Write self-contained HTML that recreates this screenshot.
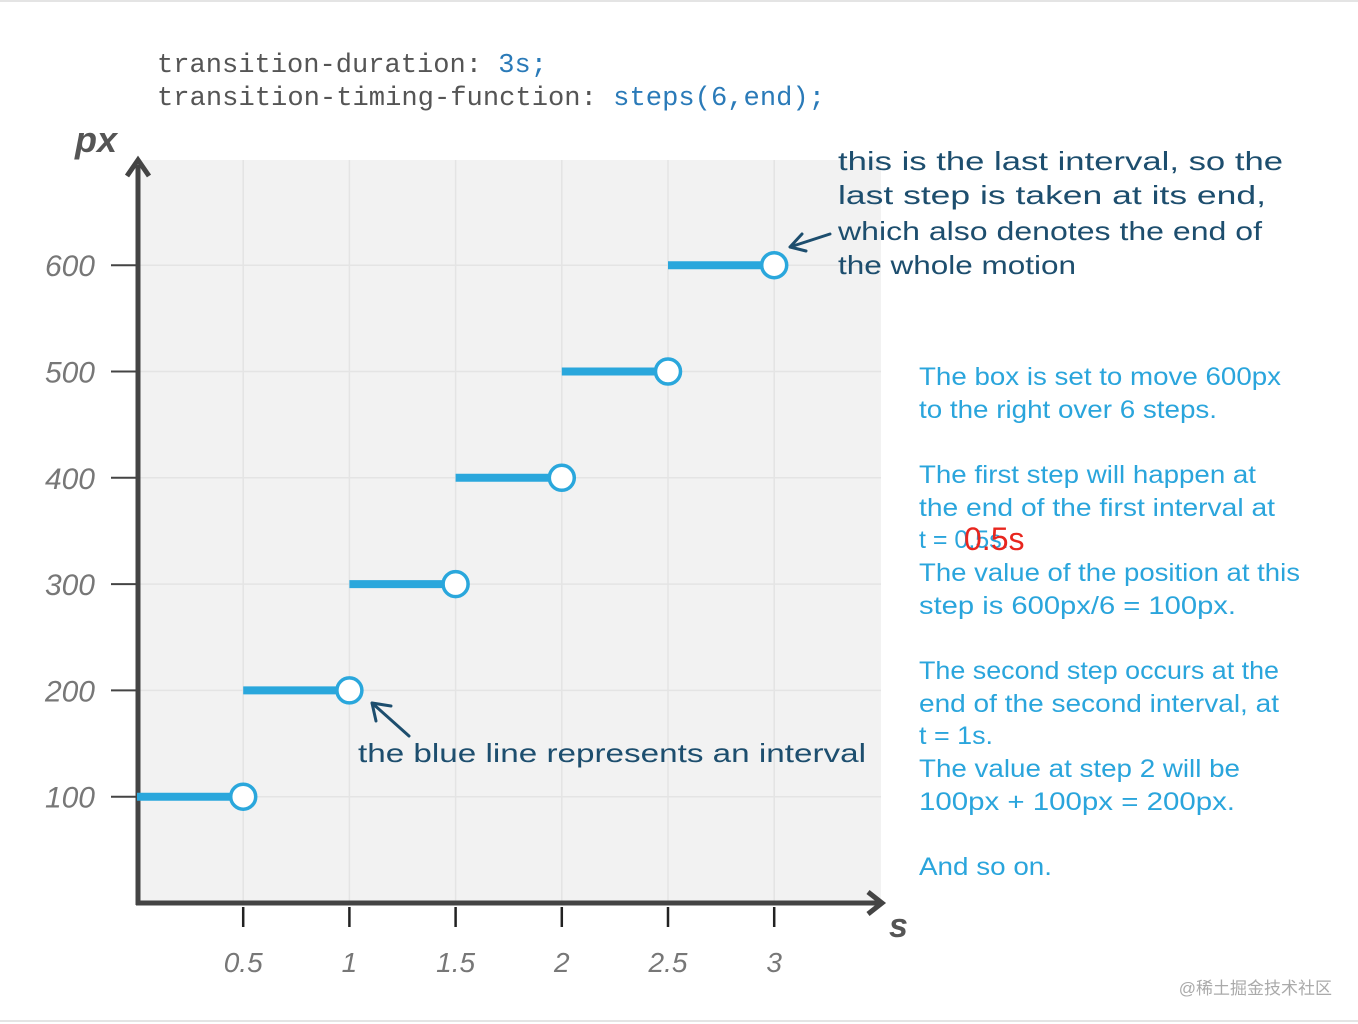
<!DOCTYPE html>
<html><head><meta charset="utf-8"><style>
html,body{margin:0;padding:0;background:#fff;}
svg{display:block;}
</style></head><body>
<svg id="chart" width="1358" height="1024" viewBox="0 0 1358 1024" xmlns="http://www.w3.org/2000/svg">
<rect x="0" y="0" width="1358" height="1024" fill="#fff"/>
<line x1="0" y1="1" x2="1358" y2="1" stroke="#e4e4e4" stroke-width="2"/>
<line x1="0" y1="1021" x2="1358" y2="1021" stroke="#e4e4e4" stroke-width="2"/>
<g font-family="Liberation Mono, monospace" font-size="27">
<text x="157" y="72" fill="#555" textLength="390" lengthAdjust="spacingAndGlyphs">transition-duration: <tspan fill="#2a7ab8">3s;</tspan></text>
<text x="157" y="105" fill="#555" textLength="668" lengthAdjust="spacingAndGlyphs">transition-timing-function: <tspan fill="#2a7ab8">steps(6,end);</tspan></text>
</g>
<rect x="138" y="160" width="743" height="743" fill="#f2f2f2"/>
<g id="grid"></g>
<g id="axes"></g>
<g id="series"></g>
<text x="75" y="152" font-family="Liberation Sans, sans-serif" font-size="36" font-weight="bold" font-style="italic" fill="#555">px</text>
<text x="889" y="937" font-family="Liberation Sans, sans-serif" font-size="34" font-weight="bold" font-style="italic" fill="#555">s</text>
<g font-family="Liberation Sans, sans-serif" font-size="26" fill="#1d4e6e">
<text x="838" y="170" textLength="445" lengthAdjust="spacingAndGlyphs">this is the last interval, so the</text>
<text x="838" y="204" textLength="428" lengthAdjust="spacingAndGlyphs">last step is taken at its end,</text>
<text x="838" y="240" textLength="424" lengthAdjust="spacingAndGlyphs">which also denotes the end of</text>
<text x="838" y="274" textLength="238" lengthAdjust="spacingAndGlyphs">the whole motion</text>
</g>
<g stroke="#1d4e6e" stroke-width="3" fill="none" stroke-linecap="round">
<path d="M830 234 L790 247 M790 247 L802 234 M790 247 L806 251"/>
</g>
<text x="358" y="762" font-family="Liberation Sans, sans-serif" font-size="26" fill="#1d4e6e" textLength="508" lengthAdjust="spacingAndGlyphs">the blue line represents an interval</text>
<g stroke="#1d4e6e" stroke-width="3" fill="none" stroke-linecap="round">
<path d="M409 736 L372 703 M372 703 L376 721 M372 703 L391 706"/>
</g>
<g font-family="Liberation Sans, sans-serif" font-size="25" fill="#2aa5dc">
<text x="919" y="385" textLength="362" lengthAdjust="spacingAndGlyphs">The box is set to move 600px</text>
<text x="919" y="418" textLength="298" lengthAdjust="spacingAndGlyphs">to the right over 6 steps.</text>
<text x="919" y="483" textLength="337" lengthAdjust="spacingAndGlyphs">The first step will happen at</text>
<text x="919" y="516" textLength="356" lengthAdjust="spacingAndGlyphs">the end of the first interval at</text>
<text x="919" y="548">t = 0.5s.</text>
<text x="919" y="581" textLength="381" lengthAdjust="spacingAndGlyphs">The value of the position at this</text>
<text x="919" y="614" textLength="317" lengthAdjust="spacingAndGlyphs">step is 600px/6 = 100px.</text>
<text x="919" y="679" textLength="360" lengthAdjust="spacingAndGlyphs">The second step occurs at the</text>
<text x="919" y="712" textLength="360" lengthAdjust="spacingAndGlyphs">end of the second interval, at</text>
<text x="919" y="744" textLength="74" lengthAdjust="spacingAndGlyphs">t = 1s.</text>
<text x="919" y="777" textLength="321" lengthAdjust="spacingAndGlyphs">The value at step 2 will be</text>
<text x="919" y="810" textLength="316" lengthAdjust="spacingAndGlyphs">100px + 100px = 200px.</text>
<text x="919" y="875" textLength="133" lengthAdjust="spacingAndGlyphs">And so on.</text>
</g>
<text x="964" y="550" font-family="Liberation Sans, sans-serif" font-size="32" fill="#e8261e">0.5s</text>
<text x="1332" y="994" text-anchor="end" font-family="Liberation Sans, 'Noto Sans CJK SC', sans-serif" font-size="17" fill="#aaa">@稀土掘金技术社区</text>
</svg>
<script>
const xTicks = [0.5, 1, 1.5, 2, 2.5, 3];
const xTickLabels = ["0.5", "1", "1.5", "2", "2.5", "3"];
const yTicks = [100, 200, 300, 400, 500, 600];
const yTickLabels = ["100", "200", "300", "400", "500", "600"];
const stepStarts = [0, 0.5, 1, 1.5, 2, 2.5];
const stepEnds = [0.5, 1, 1.5, 2, 2.5, 3];
const stepValues = [100, 200, 300, 400, 500, 600];

const NS = "http://www.w3.org/2000/svg";
const x0 = 137, xPer = 212.4;
const y0 = 903, yPer = 1.063;
function xs(v){ return x0 + v * xPer; }
function ys(v){ return y0 - v * yPer; }
function mk(tag, attrs, parent){
  const e = document.createElementNS(NS, tag);
  for (const k in attrs) e.setAttribute(k, attrs[k]);
  parent.appendChild(e);
  return e;
}
const grid = document.getElementById('grid');
const axes = document.getElementById('axes');
const series = document.getElementById('series');

xTicks.forEach((t, i) => {
  const g = mk('line', {x1: xs(t), y1: 160, x2: xs(t), y2: 903, stroke: '#e4e4e4', 'stroke-width': 1.5}, grid);
  
  
  const tk = mk('line', {x1: xs(t), y1: 907, x2: xs(t), y2: 927, stroke: '#222', 'stroke-width': 2.5}, axes);
  
  
  const lb = mk('text', {x: xs(t), y: 972, 'text-anchor': 'middle', 'font-family': 'Liberation Sans, sans-serif', 'font-size': 28, 'font-style': 'italic', fill: '#777'}, axes);
  lb.textContent = xTickLabels[i];
  
  
});
yTicks.forEach((v, i) => {
  const g = mk('line', {x1: 138, y1: ys(v), x2: 881, y2: ys(v), stroke: '#e4e4e4', 'stroke-width': 1.5}, grid);
  
  
  const tk = mk('line', {x1: 111, y1: ys(v), x2: 137, y2: ys(v), stroke: '#444', 'stroke-width': 2}, axes);
  
  
  const lb = mk('text', {x: 95, y: ys(v) + 11, 'text-anchor': 'end', 'font-family': 'Liberation Sans, sans-serif', 'font-size': 30, 'font-style': 'italic', fill: '#777'}, axes);
  lb.textContent = yTickLabels[i];
  
  
});
const ya = mk('path', {d: 'M138 905 L138 165 M127 176 L138 160 L149 176', stroke: '#444', 'stroke-width': 5, fill: 'none'}, axes);


const xa = mk('path', {d: 'M136 903 L878 903 M868 892 L882 903 L868 914', stroke: '#444', 'stroke-width': 5, fill: 'none'}, axes);



stepValues.forEach((v, i) => {
  const seg = mk('line', {x1: xs(stepStarts[i]), y1: ys(v), x2: xs(stepEnds[i]), y2: ys(v), stroke: '#2aa7dc', 'stroke-width': 8}, series);
  
  
  const c = mk('circle', {cx: xs(stepEnds[i]), cy: ys(v), r: 12.5, fill: '#fff', stroke: '#2aa7dc', 'stroke-width': 3.5}, series);
  
  
});
</script>
</body></html>
